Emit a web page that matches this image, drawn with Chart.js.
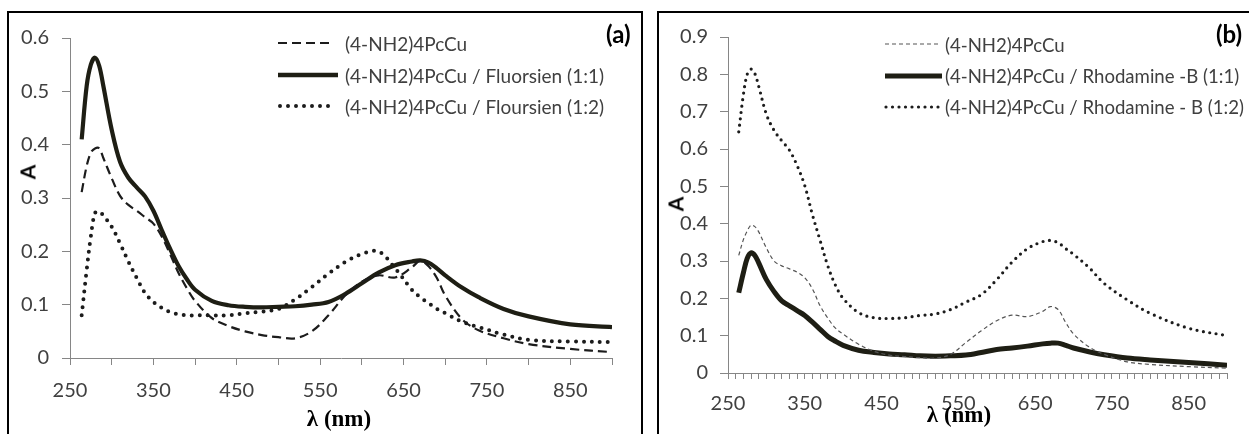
<!DOCTYPE html>
<html>
<head>
<meta charset="utf-8">
<script src="https://cdn.jsdelivr.net/npm/chart.js@4.4.1/dist/chart.umd.min.js"></script>
<style>
  body { margin: 0; background: #fff; width: 1249px; height: 434px; overflow: hidden; position: relative; font-family: Lato, sans-serif; }
  .panel { position: absolute; top: 11px; height: 440px; border: 2px solid #000; border-bottom: none; box-sizing: border-box; }
  canvas { position: absolute; }
  .txt { position: absolute; white-space: nowrap; line-height: 1; transform: translateY(-50%); }
  .leg { color: #404040; font-size: 19px; }
  .legb { font-size: 18.6px; }
  .tag { color: #000; font-weight: bold; font-size: 24px; }
  .ytitle { color: #000; font-weight: bold; font-size: 21px; transform: translate(-50%, -50%) rotate(-90deg); }
  .xtitle { color: #000; font-weight: bold; font-size: 23px; font-family: "Liberation Serif", serif; transform: translate(-50%, -50%); }
  svg { position: absolute; overflow: visible; }
</style>
</head>
<body>
<div class="panel" style="left:7px; width:636px;"></div>
<div class="panel" style="left:657px; width:600px;"></div>

<canvas id="chartA" width="632" height="421" style="left:9px; top:13px;"></canvas>
<canvas id="chartB" width="590" height="421" style="left:659px; top:13px;"></canvas>

<!-- legend samples -->
<svg style="left:0; top:0;" width="1" height="1">
  <line x1="278" y1="43" x2="334" y2="43" stroke="#1c1c1c" stroke-width="2.2" stroke-dasharray="9 5"/>
  <line x1="278" y1="75" x2="338" y2="75" stroke="#1e1e14" stroke-width="4.5"/>
  <line x1="280" y1="106" x2="334" y2="106" stroke="#1c1c1c" stroke-width="4" stroke-dasharray="0 8" stroke-linecap="round"/>
  <line x1="885" y1="44" x2="941" y2="44" stroke="#555" stroke-width="1.2" stroke-dasharray="4 3"/>
  <line x1="885" y1="76" x2="942" y2="76" stroke="#1e1e14" stroke-width="5"/>
  <line x1="886" y1="107" x2="941" y2="107" stroke="#1c1c1c" stroke-width="3.2" stroke-dasharray="0 6.5" stroke-linecap="round"/>
</svg>
<div class="txt leg" style="left:345px; top:43px;">(4-NH2)4PcCu</div>
<div class="txt leg" style="left:345px; top:75px;">(4-NH2)4PcCu / Fluorsien (1:1)</div>
<div class="txt leg" style="left:345px; top:106px;">(4-NH2)4PcCu / Floursien (1:2)</div>
<div class="txt leg legb" style="left:945px; top:45px;">(4-NH2)4PcCu</div>
<div class="txt leg legb" style="left:945px; top:76px;">(4-NH2)4PcCu / Rhodamine -B (1:1)</div>
<div class="txt leg legb" style="left:945px; top:107px;">(4-NH2)4PcCu / Rhodamine - B (1:2)</div>

<div class="txt tag" style="left:606px; top:34px;">(a)</div>
<div class="txt tag" style="left:1216px; top:34px;">(b)</div>
<div class="txt ytitle" style="left:27px; top:172px;">A</div>
<div class="txt ytitle" style="left:675px; top:204px;">A</div>
<div class="txt xtitle" style="left:339px; top:418px;">λ (nm)</div>
<div class="txt xtitle" style="left:959px; top:414px;">λ (nm)</div>

<script>
// Panel (a): (4-NH2)4PcCu with Fluorsien
const wavelengthA = [264, 270, 275, 280, 285, 290, 300, 310, 320, 330, 340, 350, 360, 370, 380, 390, 400, 420, 440, 460, 480, 500, 520, 540, 560, 580, 600, 620, 640, 660, 670, 680, 690, 700, 720, 740, 770, 800, 850, 900];
const pcCuA = [0.311, 0.36, 0.385, 0.393, 0.393, 0.375, 0.337, 0.304, 0.287, 0.276, 0.264, 0.252, 0.228, 0.195, 0.16, 0.131, 0.107, 0.075, 0.06, 0.05, 0.043, 0.039, 0.037, 0.05, 0.08, 0.117, 0.143, 0.155, 0.151, 0.17, 0.182, 0.172, 0.15, 0.117, 0.073, 0.052, 0.037, 0.026, 0.017, 0.011];
const fluor11 = [0.41, 0.51, 0.55, 0.563, 0.548, 0.51, 0.428, 0.368, 0.338, 0.32, 0.303, 0.276, 0.24, 0.205, 0.173, 0.148, 0.128, 0.107, 0.099, 0.096, 0.095, 0.096, 0.097, 0.1, 0.105, 0.12, 0.14, 0.16, 0.174, 0.181, 0.183, 0.179, 0.168, 0.155, 0.132, 0.114, 0.092, 0.078, 0.063, 0.058];
const fluor12 = [0.08, 0.165, 0.228, 0.272, 0.275, 0.267, 0.246, 0.215, 0.181, 0.15, 0.122, 0.105, 0.094, 0.086, 0.082, 0.08, 0.08, 0.08, 0.08, 0.084, 0.087, 0.092, 0.11, 0.133, 0.158, 0.18, 0.195, 0.2, 0.168, 0.128, 0.114, 0.103, 0.092, 0.084, 0.068, 0.058, 0.044, 0.034, 0.031, 0.03];

// Panel (b): (4-NH2)4PcCu with Rhodamine-B
const wavelengthB = [264, 270, 275, 280, 285, 290, 300, 310, 320, 330, 340, 350, 360, 370, 380, 390, 400, 420, 440, 460, 480, 500, 520, 540, 560, 580, 600, 620, 640, 660, 670, 680, 690, 700, 720, 740, 770, 800, 850, 900];
const pcCuB = [0.315, 0.357, 0.38, 0.396, 0.392, 0.378, 0.335, 0.3, 0.287, 0.279, 0.27, 0.255, 0.225, 0.18, 0.147, 0.12, 0.104, 0.077, 0.058, 0.048, 0.044, 0.041, 0.04, 0.05, 0.082, 0.113, 0.14, 0.155, 0.151, 0.165, 0.178, 0.17, 0.135, 0.105, 0.07, 0.05, 0.03, 0.023, 0.017, 0.013];
const rhod11 = [0.215, 0.268, 0.307, 0.322, 0.315, 0.295, 0.25, 0.218, 0.193, 0.18, 0.167, 0.154, 0.136, 0.117, 0.098, 0.085, 0.074, 0.061, 0.055, 0.051, 0.049, 0.046, 0.045, 0.046, 0.048, 0.055, 0.063, 0.067, 0.072, 0.078, 0.08, 0.08, 0.074, 0.067, 0.057, 0.049, 0.04, 0.035, 0.028, 0.021];
const rhod12 = [0.646, 0.745, 0.8, 0.814, 0.802, 0.768, 0.693, 0.65, 0.622, 0.597, 0.556, 0.502, 0.424, 0.355, 0.287, 0.235, 0.2, 0.162, 0.148, 0.146, 0.148, 0.154, 0.158, 0.17, 0.19, 0.21, 0.25, 0.297, 0.333, 0.352, 0.355, 0.349, 0.333, 0.318, 0.283, 0.24, 0.196, 0.16, 0.12, 0.1];

// axis ticks
const xTicksA = [250, 300, 350, 400, 450, 500, 550, 600, 650, 700, 750, 800, 850, 900];
const xTickLabels = [250, 350, 450, 550, 650, 750, 850];
const yTicksA = [0, 0.1, 0.2, 0.3, 0.4, 0.5, 0.6];
const yTicksB = [0, 0.1, 0.2, 0.3, 0.4, 0.5, 0.6, 0.7, 0.8, 0.9];

const tickFont = { family: 'Lato', size: 20 };
const axisGrey = '#868686';
const labelGrey = '#404040';

function points(xs, ys) {
    return xs.map((x, i) => ({ x: x, y: ys[i] }));
}

function lineSet(xs, ys, style) {
    return Object.assign({
        data: points(xs, ys),
        borderColor: '#1c1c1c',
        pointRadius: 0,
        fill: false,
        tension: 0.35
    }, style);
}

function yLabel(v) {
    return v === 0 ? '0' : v.toFixed(1);
}

// Builds one panel; area gives the axis box sizes so the plot sits where the reference has it
function makeChart(id, datasets, yTicks, xOpts, area) {
    const ctx = document.getElementById(id).getContext('2d');
    return new Chart(ctx, {
        type: 'line',
        data: { datasets: datasets },
        options: {
            responsive: false,
            animation: false,
            layout: { padding: { left: 0, right: area.right, top: area.top, bottom: 0 } },
            plugins: { legend: { display: false }, tooltip: { enabled: false } },
            scales: {
                x: Object.assign({
                    type: 'linear',
                    min: 250,
                    max: 900,
                    afterFit: s => { s.height = area.xHeight; },
                    border: { color: axisGrey },
                    grid: { drawOnChartArea: false, tickLength: xOpts.tickLength, color: axisGrey }
                }, xOpts.scale, {
                    ticks: Object.assign({
                        autoSkip: false,
                        maxRotation: 0,
                        color: labelGrey,
                        font: tickFont,
                        callback: v => xTickLabels.includes(v) ? String(v) : ''
                    }, xOpts.ticks)
                }),
                y: {
                    min: 0,
                    max: yTicks[yTicks.length - 1],
                    afterBuildTicks: s => { s.ticks = yTicks.map(v => ({ value: v })); },
                    afterFit: s => { s.width = area.yWidth; },
                    border: { color: axisGrey },
                    grid: { drawOnChartArea: false, tickLength: 8, color: axisGrey },
                    ticks: { color: labelGrey, font: tickFont, padding: area.yPad, callback: yLabel }
                }
            }
        }
    });
}

makeChart('chartA', [
    lineSet(wavelengthA, pcCuA, { borderWidth: 2.2, borderDash: [9, 5] }),
    lineSet(wavelengthA, fluor11, { borderWidth: 4.2, borderColor: '#1e1e14' }),
    lineSet(wavelengthA, fluor12, { borderWidth: 4, borderDash: [0, 8], borderCapStyle: 'round' })
], yTicksA, {
    tickLength: 7,
    scale: { afterBuildTicks: s => { s.ticks = xTicksA.map(v => ({ value: v })); } },
    ticks: { padding: 14 }
}, { right: 29, top: 20, xHeight: 76, yWidth: 61, yPad: 13 });

makeChart('chartB', [
    lineSet(wavelengthB, pcCuB, { borderWidth: 1.2, borderDash: [4, 3], borderColor: '#555' }),
    lineSet(wavelengthB, rhod11, { borderWidth: 5, borderColor: '#1e1e14' }),
    lineSet(wavelengthB, rhod12, { borderWidth: 3.2, borderDash: [0, 6.5], borderCapStyle: 'round' })
], yTicksB, {
    tickLength: 6,
    scale: {},
    ticks: { stepSize: 10, padding: 13 }
}, { right: 22, top: 20, xHeight: 61, yWidth: 69, yPad: 12 });
</script>
</body>
</html>
